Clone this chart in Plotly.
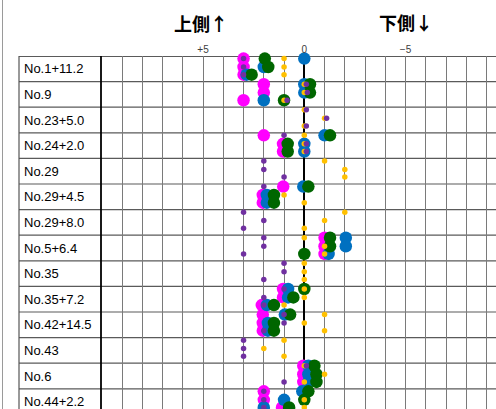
import plotly.graph_objects as go

N = None
categories = ["No.1+11.2", "No.9", "No.23+5.0", "No.24+2.0", "No.29", "No.29+4.5",
              "No.29+8.0", "No.5+6.4", "No.35", "No.35+7.2", "No.42+14.5", "No.43",
              "No.6", "No.44+2.2"]

# three readings per category (upper / middle / lower sub-row)
magenta = [[3.0, 3.0, 3.0], [2.0, 2.0, 3.0], [N, N, N], [2.0, 1.05, 1.05], [N, N, N],
           [1.04, 2.05, 2.05], [N, N, N], [-1.0, -1.0, -1.0], [N, N, N], [1.05, 1.05, 2.1],
           [2.05, 2.05, 2.05], [N, N, N], [0.05, 0.05, 0.05], [2.0, 2.0, 1.1]]
blue = [[0.0, 2.0, 2.85], [0.0, 0.0, 2.0], [N, N, N], [-1.0, 0.0, 0.0], [N, N, N],
        [0.05, 1.85, 1.85], [N, N, N], [-2.05, -2.05, -1.2], [N, N, N], [0.8, 0.8, 1.85],
        [0.96, 1.8, 1.8], [N, N, N], [-0.2, -0.2, -0.2], [0.1, 1.0, 2.0]]
green = [[1.95, 1.78, 2.6], [-0.28, -0.28, 1.0], [N, N, N], [-1.27, 0.82, 0.82], [N, N, N],
         [-0.2, 1.5, 1.5], [N, N, N], [-1.27, -1.27, 0.0], [N, N, N], [0.0, 0.54, 1.5],
         [0.7, 1.5, 1.5], [N, N, N], [-0.5, -0.6, -0.6], [-0.2, 0.0, 0.75]]
yellow = [[1.0, 1.0, 1.0], [0.0, 0.0, 1.0], [0.0, -1.0, 0.0], [0.0, 0.0, 0.0], [-1.0, -2.0, -2.0],
          [N, 1.0, 0.0], [-2.0, -1.0, 0.0], [0.0, -1.0, -1.0], [0.0, 0.0, 0.0], [0.0, 0.0, 1.0],
          [-1.0, 0.0, -1.0], [1.0, 2.0, 1.0], [0.0, -1.0, 0.0], [N, 0.0, 0.0]]
purple = [[3.0, 3.0, 3.0], [-0.1, -0.15, 0.85], [-0.1, -1.1, -0.1], [1.0, -0.1, -0.1], [2.0, 2.0, 1.0],
          [2.0, N, N], [3.0, 2.0, 3.0], [2.0, 2.0, 3.0], [1.0, 1.0, 2.0], [1.0, 2.0, 2.0],
          [1.0, 1.0, 2.0], [3.0, 3.0, 3.0], [-0.1, N, 1.0], [2.0, 2.0, 2.0]]

tick_vals = [5, 0, -5]
tick_text = ["+5", "0", "−5"]
titles = ["上側↑", "下側↓"]

SUB = [0.1, 0.43, 0.73]


def flatten(series):
    xs, ys = [], []
    for i, trip in enumerate(series):
        for k, v in enumerate(trip):
            if v is not None:
                xs.append(v)
                ys.append(i + SUB[k])
    return xs, ys


W, H = 496, 409
L, T = 101, 56
PX_PER_UNIT = 20.25
X0_PIX = 304.3
ROW_H = 25.6
x_left = (X0_PIX - L) / PX_PER_UNIT
x_right = (X0_PIX - W) / PX_PER_UNIT
y_bottom = (H - T) / ROW_H
plot_w = W - L


def px_to_paper(px):
    return (px - L) / plot_w


fig = go.Figure()
styles = [
    (magenta, "#FF00FF", 12.5),
    (blue, "#0070C0", 12.5),
    (green, "#006600", 12.5),
    (yellow, "#FFC000", 5.5),
    (purple, "#7030A0", 5.5),
]
for series, color, size in styles:
    xs, ys = flatten(series)
    fig.add_trace(go.Scatter(x=xs, y=ys, mode="markers",
                             marker=dict(color=color, size=size, line=dict(width=0)),
                             cliponaxis=False, showlegend=False, hoverinfo="skip"))

all_ticks = list(range(-9, 11))
fig.update_xaxes(range=[x_left, x_right], side="top", tickmode="array",
                 tickvals=all_ticks,
                 ticktext=[tick_text[tick_vals.index(v)] if v in tick_vals else "" for v in all_ticks],
                 showgrid=True, gridcolor="#7a7a7a", gridwidth=1,
                 zeroline=True, zerolinecolor="#000000", zerolinewidth=2,
                 ticks="", tickfont=dict(family="Liberation Sans", size=10, color="#404040"),
                 showline=False, fixedrange=True)
fig.update_yaxes(range=[y_bottom, 0], showgrid=False, zeroline=False, showticklabels=False,
                 ticks="", showline=False, fixedrange=True)

shapes = []
xl = px_to_paper(19)
for k in range(len(categories) + 1):
    shapes.append(dict(type="line", xref="paper", yref="y", x0=xl, x1=1, y0=k, y1=k,
                       line=dict(color="#5a5a5a", width=1.2 if k else 1.8), layer="below"))
shapes.append(dict(type="line", xref="paper", yref="paper", x0=xl, x1=xl, y0=0, y1=1,
                   line=dict(color="#555555", width=1.2), layer="below"))
shapes.append(dict(type="line", xref="paper", yref="paper", x0=0, x1=0, y0=0, y1=1,
                   line=dict(color="#000000", width=1.8), layer="below"))
xe = px_to_paper(2.5)
shapes.append(dict(type="line", xref="paper", yref="paper", x0=xe, x1=xe, y0=0, y1=1 + T / (H - T),
                   line=dict(color="#9a9a9a", width=1), layer="below"))
fig.update_layout(shapes=shapes)

ann = []
for i, c in enumerate(categories):
    ann.append(dict(text=c, xref="paper", yref="y", x=px_to_paper(22), y=i + 0.5,
                    xanchor="left", yanchor="middle", showarrow=False,
                    font=dict(family="Liberation Sans", size=13, color="#000000")))
for t, xv, py in zip(titles, [5.1, -5.0], [23, 22]):
    ann.append(dict(text=t, xref="x", yref="paper", x=xv, y=(H - py) / (H - T),
                    xanchor="center", yanchor="middle", showarrow=False,
                    font=dict(family="Noto Sans CJK JP", size=18, color="#000000", weight="bold")))
fig.update_layout(annotations=ann)

fig.update_layout(width=W, height=H, margin=dict(l=L, r=0, t=T, b=0, pad=0),
                  paper_bgcolor="white", plot_bgcolor="white", autosize=False)
fig.write_html("out.html", config={"displayModeBar": False, "staticPlot": True},
               post_script="document.body.style.margin='0';document.body.style.overflow='hidden';")
